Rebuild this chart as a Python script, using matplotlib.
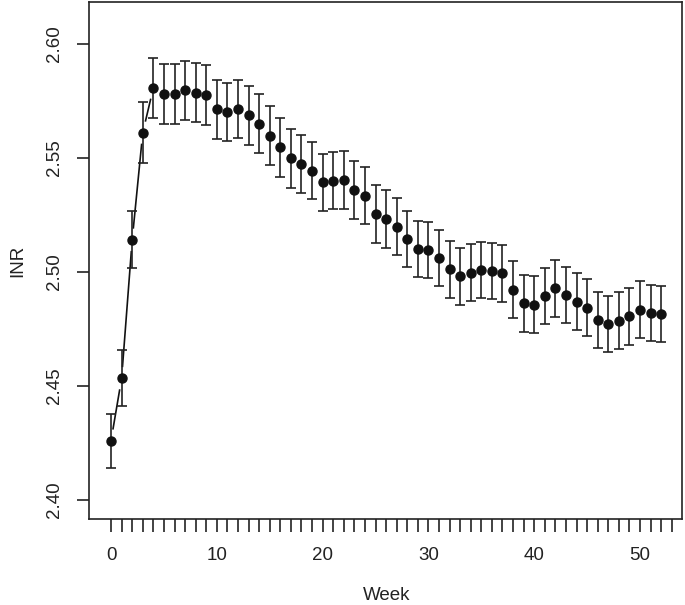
import matplotlib
matplotlib.use("Agg")
import matplotlib.pyplot as plt
import numpy as np

plt.rcParams['font.family'] = ['Liberation Sans', 'DejaVu Sans']

weeks = list(range(0, 53))
inr = [2.426, 2.4533, 2.514, 2.561, 2.5806, 2.5779, 2.5779, 2.5796, 2.5785, 2.5774,
       2.5712, 2.5701, 2.5713, 2.5685, 2.5649, 2.5596, 2.5545, 2.5497, 2.5472, 2.5443,
       2.5392, 2.5399, 2.5402, 2.5358, 2.5333, 2.5253, 2.5231, 2.5197, 2.5142, 2.5100,
       2.5095, 2.5060, 2.5011, 2.4980, 2.4996, 2.5008, 2.5003, 2.4993, 2.4921, 2.4862,
       2.4856, 2.4894, 2.4927, 2.4898, 2.4869, 2.4843, 2.4789, 2.4770, 2.4786, 2.4805,
       2.4834, 2.4818, 2.4815]
se = [0.0118, 0.0123, 0.0125, 0.0134, 0.0132, 0.0132, 0.0131, 0.0129, 0.0130, 0.0133,
      0.0129, 0.0128, 0.0129, 0.0128, 0.0128, 0.0129, 0.0128, 0.0128, 0.0128, 0.0126,
      0.0125, 0.0126, 0.0127, 0.0126, 0.0126, 0.0126, 0.0126, 0.0125, 0.0123, 0.0123,
      0.0123, 0.0124, 0.0124, 0.0124, 0.0124, 0.0124, 0.0124, 0.0124, 0.0124, 0.0124,
      0.0124, 0.0124, 0.0124, 0.0124, 0.0124, 0.0124, 0.0124, 0.0124, 0.0124, 0.0124,
      0.0124, 0.0123, 0.0123]
line_weeks = 5  # weeks 0-4 are connected by a line
x_labels = [0, 10, 20, 30, 40, 50]
y_ticks = [2.40, 2.45, 2.50, 2.55, 2.60]

W, H = 685, 605
fig = plt.figure(figsize=(W / 100, H / 100), dpi=100)
ax = fig.add_axes([88.5 / W, 1 - 519.3 / H, (682 - 88.5) / W, (519.3 - 2) / H])
ax.set_xlim(-2.13, 53.97)
ax.set_ylim(2.3915, 2.6182)

col = '#111111'
ax.errorbar(weeks, inr, yerr=se, fmt='o', color=col, ecolor='#222222',
            elinewidth=1.2, capsize=3.7, capthick=1.2, markersize=6.5, zorder=3)

# connecting line for first weeks with gaps around points (R type="b")
fig.canvas.draw()
gap = 12.0
pts = ax.transData.transform(np.column_stack([weeks[:line_weeks], inr[:line_weeks]]))
inv = ax.transData.inverted()
for i in range(line_weeks - 1):
    p0, p1 = pts[i], pts[i + 1]
    d = p1 - p0
    L = np.hypot(*d)
    u = d / L
    a = inv.transform(p0 + u * gap)
    b = inv.transform(p1 - u * gap)
    ax.plot([a[0], b[0]], [a[1], b[1]], color=col, lw=1.2, zorder=2)

for s in ax.spines.values():
    s.set_linewidth(1.2)
    s.set_color('#222222')

ax.set_xticks(list(range(0, 54)))
ax.set_xticklabels([str(w) if w in x_labels else '' for w in range(0, 54)])
ax.set_yticks(y_ticks)
ax.set_yticklabels([f'{v:.2f}' for v in y_ticks], rotation=90, va='center')
ax.tick_params(axis='both', direction='out', length=9, width=1.2, color='#222222',
               labelsize=13.5, labelcolor='#222222')
ax.tick_params(axis='x', pad=11)
ax.tick_params(axis='y', pad=9)

fig.text(387 / W, 1 - 595 / H, 'Week', ha='center', va='center', fontsize=13.5, color='#222222')
fig.text(18 / W, 1 - ((519.3 + 2) / 2) / H, 'INR', ha='center', va='center', rotation=90,
         fontsize=13.5, color='#222222')

fig.savefig('out.png', dpi=100)
